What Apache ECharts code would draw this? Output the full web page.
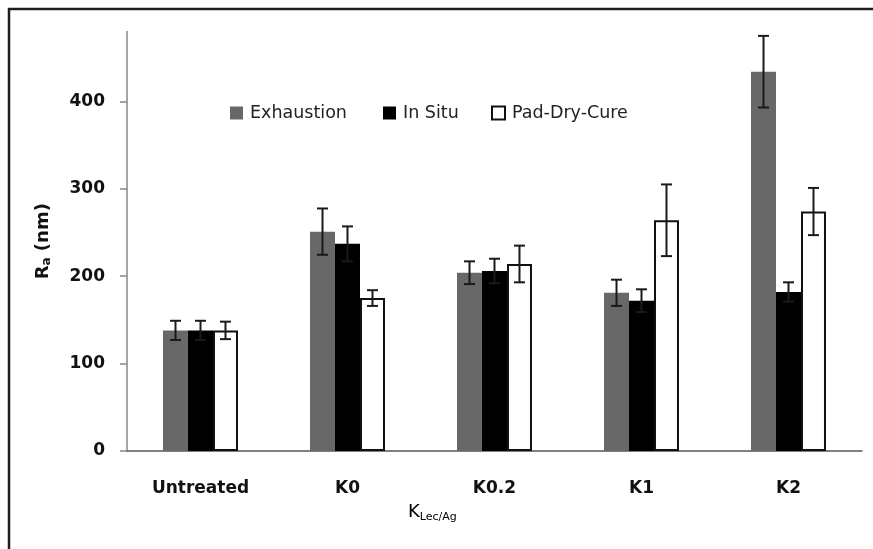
<!DOCTYPE html>
<html>
<head>
<meta charset="utf-8">
<script src="https://cdn.jsdelivr.net/npm/echarts@6/dist/echarts.min.js"></script>
<style>html,body{margin:0;padding:0;background:#fff}#c{width:873px;height:549px}</style>
</head>
<body>
<div id="c"></div>
<script>
var categories = ['Untreated', 'K0', 'K0.2', 'K1', 'K2'];
var exhaustion = [138, 251, 204, 181, 434];
var inSitu = [138, 237, 206, 172, 182];
var padDryCure = [138, 175, 214, 264, 274];
var exhaustionErr = [11, 26.5, 13, 15, 41];
var inSituErr = [11, 20, 14, 13, 11];
var padDryCureErr = [10, 9, 21, 41, 27];
var yTicks = [0, 100, 200, 300, 400];

var FONT = '"DejaVu Sans", sans-serif';
var chart = echarts.init(document.getElementById('c'));
var GROUP_FRAC = 0.51;

function errSeries(vals, errs, idx) {
  return {
    type: 'custom',
    z: 10,
    silent: true,
    data: vals.map(function (v, i) { return [i, v, errs[i]]; }),
    renderItem: function (params, api) {
      var i = api.value(0), v = api.value(1), e = api.value(2);
      var band = api.size([1, 0])[0];
      var bw = band * GROUP_FRAC / 3;
      var c = api.coord([i, v]);
      var x = c[0] + (idx - 1) * bw;
      var yt = api.coord([i, v + e])[1];
      var yb = api.coord([i, v - e])[1];
      var h = 5.5;
      var st = { stroke: '#1a1a1a', lineWidth: 2 };
      return {
        type: 'group',
        children: [
          { type: 'line', shape: { x1: x, y1: yt, x2: x, y2: yb }, style: st },
          { type: 'line', shape: { x1: x - h, y1: yt, x2: x + h, y2: yt }, style: st },
          { type: 'line', shape: { x1: x - h, y1: yb, x2: x + h, y2: yb }, style: st }
        ]
      };
    }
  };
}

function legendAt(name, left) {
  return {
    data: [name],
    left: left,
    top: 104,
    padding: 0,
    itemWidth: 13,
    itemHeight: 13,
    itemGap: 0,
    icon: 'rect',
    selectedMode: false,
    textStyle: { fontFamily: FONT, fontSize: 17.5, color: '#222', padding: [0, 0, 0, 2] }
  };
}

chart.setOption({
  animation: false,
  backgroundColor: '#fff',
  grid: { left: 127, right: 11, top: 31.5, bottom: 98, containLabel: false },
  legend: [
    legendAt('Exhaustion', 230),
    legendAt('In Situ', 383),
    legendAt('Pad-Dry-Cure', 491)
  ],
  xAxis: {
    type: 'category',
    data: categories,
    axisLine: { lineStyle: { color: '#555', width: 1.5 } },
    axisTick: { show: false },
    axisLabel: { fontFamily: FONT, fontSize: 17, fontWeight: 'bold', color: '#111', margin: 29 }
  },
  yAxis: {
    type: 'value',
    min: 0,
    max: 480,
    interval: 100,
    splitLine: { show: false },
    axisLine: { show: true, lineStyle: { color: '#888', width: 1.5 } },
    axisTick: { show: true, length: 7, customValues: yTicks, lineStyle: { color: '#888', width: 1.5 } },
    axisLabel: { customValues: yTicks, fontFamily: FONT, fontSize: 17, fontWeight: 'bold', color: '#111', margin: 22 },
    name: '{b|R}{s|a}{b| (nm)}',
    nameLocation: 'middle',
    nameGap: 74,
    nameRotate: 90,
    nameTextStyle: {
      rich: {
        b: { fontFamily: FONT, fontSize: 18, fontWeight: 'bold', color: '#111' },
        s: { fontFamily: FONT, fontSize: 12, fontWeight: 'bold', color: '#111', verticalAlign: 'bottom', padding: [8, 0, 0, 0] }
      }
    }
  },
  graphic: [
    {
      type: 'rect',
      shape: { x: 9, y: 9, width: 1000, height: 700 },
      style: { fill: 'none', stroke: '#1e1e1e', lineWidth: 2.5 },
      silent: true
    },
    {
      type: 'text',
      left: 408,
      top: 503,
      style: {
        text: '{k|K}{s|Lec/Ag}',
        rich: {
          k: { fontFamily: FONT, fontSize: 18, color: '#111' },
          s: { fontFamily: FONT, fontSize: 11, color: '#111', padding: [10, 0, 0, 0] }
        }
      }
    }
  ],
  series: [
    {
      name: 'Exhaustion', type: 'bar', data: exhaustion,
      barGap: '0%', barCategoryGap: '49%',
      itemStyle: { color: '#686868' }
    },
    {
      name: 'In Situ', type: 'bar', data: inSitu,
      itemStyle: { color: '#000' }
    },
    {
      name: 'Pad-Dry-Cure', type: 'bar', data: padDryCure,
      itemStyle: { color: '#fff', borderColor: '#111', borderWidth: 2 }
    },
    errSeries(exhaustion, exhaustionErr, 0),
    errSeries(inSitu, inSituErr, 1),
    errSeries(padDryCure, padDryCureErr, 2)
  ]
});
</script>
</body>
</html>
